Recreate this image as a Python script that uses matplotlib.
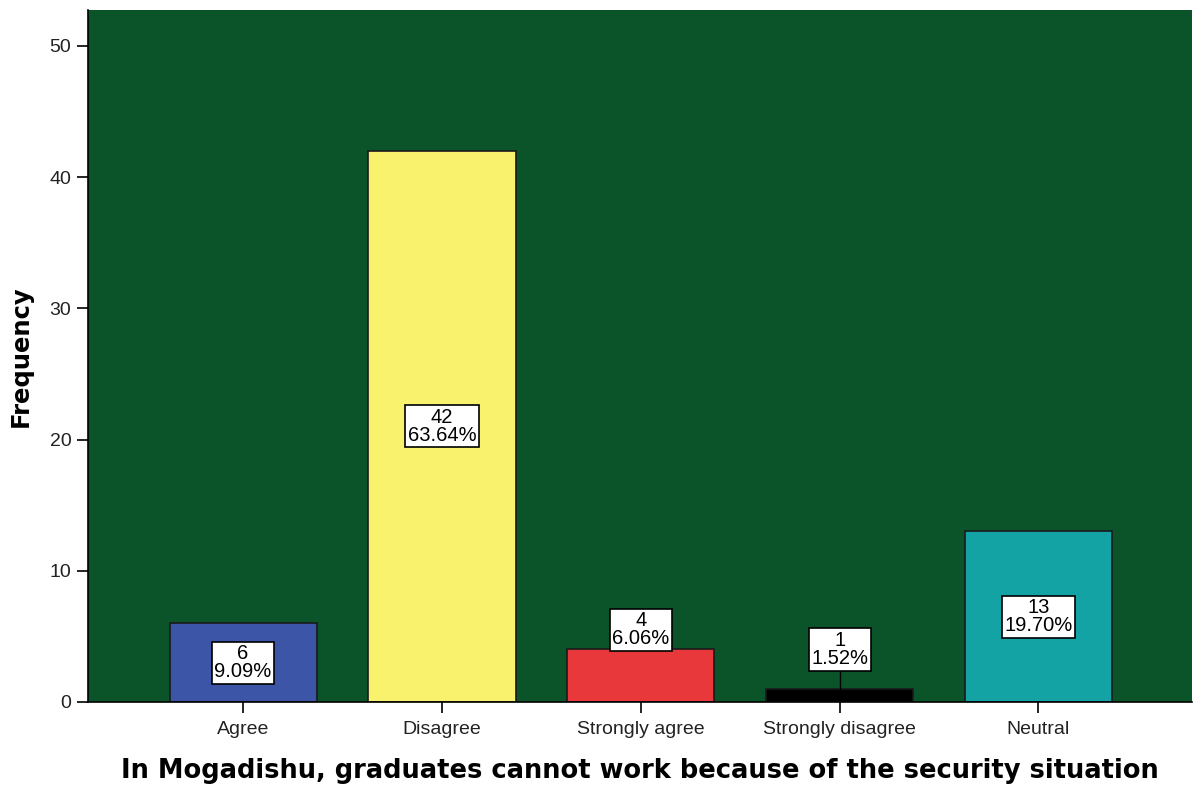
import numpy as np
import matplotlib.pyplot as plt

## frequency table
categories = ['Agree', 'Disagree', 'Strongly agree', 'Strongly disagree', 'Neutral']
counts = [6, 42, 4, 1, 13]
percents = ['9.09%', '63.64%', '6.06%', '1.52%', '19.70%']
bar_colors = ['#3d55a6', '#f8f26c', '#e8383b', '#000000', '#14a3a4']
## where each count box sits (small bars push the box above the bar)
label_y = [3.0, 21.0, 5.5, 4.0, 6.5]

plt.rcParams['font.family'] = ['Liberation Sans', 'DejaVu Sans']

fig = plt.figure(figsize=(11.94, 7.93), dpi=100)
ax = fig.add_axes([0.0737, 0.1148, 0.9243, 0.8726])
ax.set_facecolor('#0b542a')

x = np.arange(len(categories))
ax.bar(x, counts, width=0.74, color=bar_colors, edgecolor='#1a1a1a',
       linewidth=1.2, zorder=2)

for xi, c, p, ly, h in zip(x, counts, percents, label_y, counts):
    if ly > h:
        ax.plot([xi, xi], [h, ly], color='black', lw=1, zorder=3)
    ax.text(xi, ly, f'{c}\n{p}', ha='center', va='center', fontsize=14.5,
            linespacing=0.95, zorder=4,
            bbox=dict(boxstyle='square,pad=0.12', fc='white', ec='black', lw=1.2))

ax.set_xlim(-0.78, 4.77)
ax.set_ylim(0, 52.74)
ax.set_yticks([0, 10, 20, 30, 40, 50])
ax.set_xticks(x)
ax.set_xticklabels(categories)
ax.tick_params(axis='both', labelsize=14, length=8, width=1.2,
               colors='black', labelcolor='#222222', pad=4)
ax.tick_params(axis='x', pad=6)

for side in ['top', 'right']:
    ax.spines[side].set_visible(False)
for side in ['left', 'bottom']:
    ax.spines[side].set_linewidth(1.2)

ax.set_ylabel('Frequency', fontsize=17.5, fontweight='bold',
              family=['DejaVu Sans'], labelpad=12)
ax.set_xlabel('In Mogadishu, graduates cannot work because of the security situation',
              fontsize=18.5, fontweight='bold', family=['DejaVu Sans'], labelpad=14)

fig.savefig('out.png', dpi=100)
